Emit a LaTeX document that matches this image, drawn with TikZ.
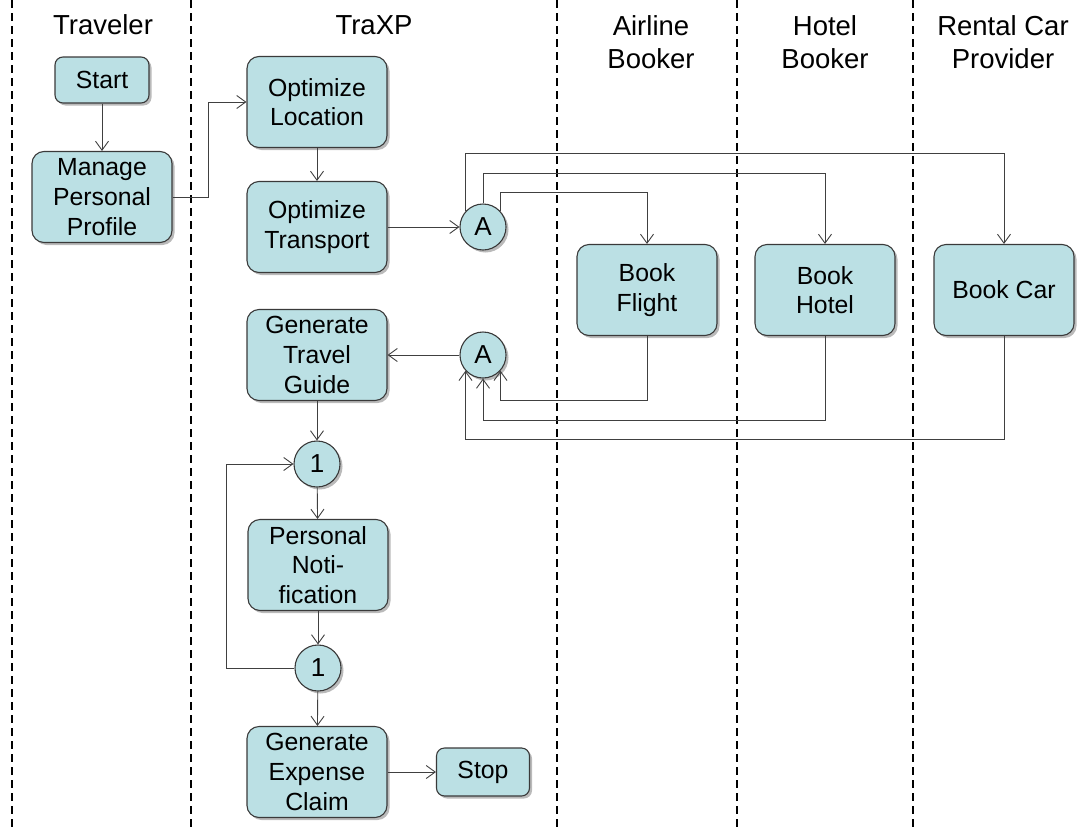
\documentclass[tikz,border=0pt]{standalone}
\usepackage{fontspec}
\setmainfont{Liberation Sans}
\usetikzlibrary{arrows.meta,shadows,calc}
\definecolor{boxfill}{RGB}{187,224,228}
\definecolor{edge}{RGB}{58,58,58}
\definecolor{wire}{RGB}{64,64,64}
\begin{document}
\begin{tikzpicture}[x=1pt,y=-1pt,
  every node/.style={font=\fontsize{24.8}{29.6}\selectfont, align=center},
  proc/.style={draw=edge, line width=1.1pt, fill=boxfill, rounded corners=12pt,
    minimum width=140pt, minimum height=91pt, inner sep=2pt,
    drop shadow={shadow xshift=2.5pt, shadow yshift=-2.5pt, opacity=0.45, fill=black!60}},
  term/.style={proc, minimum width=94pt, minimum height=46pt, rounded corners=8pt},
  pageref/.style={draw=edge, line width=1.1pt, fill=boxfill, circle, minimum size=46pt, inner sep=0pt,
    font=\fontsize{26}{30}\selectfont,
    drop shadow={shadow xshift=2.5pt, shadow yshift=-2.5pt, opacity=0.45, fill=black!60}},
  lane/.style={draw=black, line width=1.6pt, dash pattern=on 8pt off 5pt},
  head/.style={font=\fontsize{27.5}{33}\selectfont},
  conn/.style={draw=wire, line width=0.9pt, -{Straight Barb[length=9pt,width=13pt]}}]
\useasboundingbox (0,0) rectangle (1083,827);

% swimlane separators
\foreach \lx in {12,191,557,737,913}
  \draw[lane] (\lx,0) -- (\lx,827);

% lane headers
\node[head] (hTrav) at (103,25) {Traveler};
\node[head] (hTrax) at (374,25) {TraXP};
\node[head] (hAir) at (651,42) {Airline\\Booker};
\node[head] (hHot) at (825,42) {Hotel\\Booker};
\node[head] (hCar) at (1003,42) {Rental Car\\Provider};

% activities
\node[term] (start) at (102,80) {Start};
\node[proc] (mpp) at (102,197) {Manage\\Personal\\Profile};
\node[proc] (oloc) at (317,102) {Optimize\\Location};
\node[proc] (otra) at (317,227) {Optimize\\Transport};
\node[pageref] (afork) at (483,227) {A};
\node[proc] (flight) at (647,290) {Book\\Flight};
\node[proc] (hotel) at (825,290) {Book\\Hotel};
\node[proc] (car) at (1004,290) {Book Car};
\node[pageref] (ajoin) at (483,355) {A};
\node[proc] (guide) at (317,355) {Generate\\Travel\\Guide};
\node[pageref] (loopin) at (317,464) {1};
\node[proc] (notif) at (318,565) {Personal\\Noti-\\fication};
\node[pageref] (loopout) at (318,668) {1};
\node[proc] (claim) at (317,772) {Generate\\Expense\\Claim};
\node[term, minimum width=93pt, minimum height=48pt] (stop) at (483,772) {Stop};

% control flow
\draw[conn] (start) -- (mpp);
\draw[conn] (mpp.east) -- ++(36,0) |- (oloc.west);
\draw[conn] (oloc) -- (otra);
\draw[conn] (otra.east) -- (afork.west);

% fork to the bookers
\draw[conn] (afork.138) -- (afork.138 |- 0,153) -| (car.north);
\draw[conn] (afork.north) -- (afork.north |- 0,173) -| (hotel.north);
\draw[conn] (afork.42) -- (afork.42 |- 0,192) -| (flight.north);

% join back from the bookers
\draw[conn] (flight.south) -- (flight.south |- 0,400) -| (ajoin.318);
\draw[conn] (hotel.south) -- (hotel.south |- 0,420) -| (ajoin.south);
\draw[conn] (car.south) -- (car.south |- 0,439) -| (ajoin.222);

\draw[conn] (ajoin.west) -- (guide.east);
\draw[conn] (guide) -- (loopin);
\draw[conn] (loopin) -- (notif);
\draw[conn] (notif) -- (loopout);
\draw[conn] (loopout.west) -- ++(-68,0) |- (loopin.west);
\draw[conn] (loopout) -- (claim);
\draw[conn] (claim.east) -- (stop.west);
\end{tikzpicture}
\end{document}
